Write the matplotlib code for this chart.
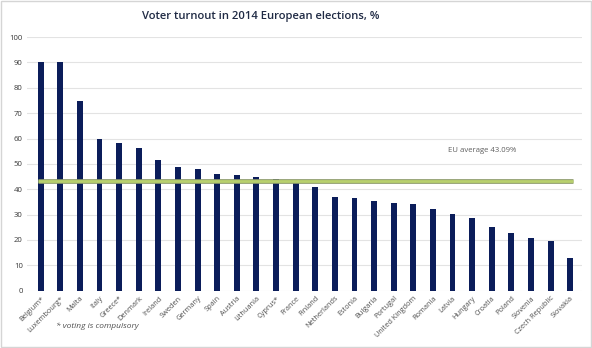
import matplotlib
matplotlib.use("Agg")
import matplotlib.pyplot as plt
import numpy as np

countries = ["Belgium*", "Luxembourg*", "Malta", "Italy", "Greece*", "Denmark",
             "Ireland", "Sweden", "Germany", "Spain", "Austria", "Lithuania",
             "Cyprus*", "France", "Finland", "Netherlands", "Estonia", "Bulgaria",
             "Portugal", "United Kingdom", "Romania", "Latvia", "Hungary",
             "Croatia", "Poland", "Slovenia", "Czech Republic", "Slovakia"]
turnout = [90.0, 90.0, 74.8, 60.0, 58.1, 56.4, 51.6, 48.8, 48.0, 45.9, 45.6,
           44.8, 44.1, 42.9, 41.0, 37.1, 36.4, 35.4, 34.6, 34.2, 32.2, 30.2,
           28.8, 25.1, 22.9, 20.9, 19.6, 13.0]
eu_avg = 43.09
yticks = list(range(0, 101, 10))

plt.rcParams['font.family'] = ['Open Sans', 'DejaVu Sans']

fig = plt.figure(figsize=(5.92, 3.48), dpi=100)
ax = fig.add_axes([0.0456, 0.1646, 0.9374, 0.7288])

x = np.arange(len(countries))
ax.bar(x, turnout, width=0.3, color='#0b1d5a', zorder=2)

# EU average line across the bars
w = 0.15
ax.plot([x[0] - w, x[-1] + w], [eu_avg, eu_avg], color='#8c9a6a', lw=3.4,
        solid_capstyle='butt', zorder=3)
ax.plot([x[0] - w, x[-1] + w], [eu_avg, eu_avg], color='#b8d06e', lw=2.0,
        solid_capstyle='butt', zorder=4)
ax.text(22.5, 55.3, "EU average %.2f%%" % eu_avg, fontsize=5.6, color='#606060',
        ha='center', va='center')

ax.set_xlim(-0.7, 27.6)
ax.set_ylim(0, 100)
ax.set_yticks(yticks)
ax.set_yticklabels([str(v) for v in yticks], fontsize=5.6, color='#3a3a3a')
ax.yaxis.grid(True, color='#e3e3e3', lw=0.8, zorder=0)
ax.set_axisbelow(True)
ax.set_xticks(x)
ax.set_xticklabels(countries, rotation=45, ha='right', rotation_mode='anchor',
                   fontsize=5.3, color='#505050')
ax.tick_params(axis='both', length=0, pad=3)
for s in ax.spines.values():
    s.set_visible(False)

fig.text(261 / 592, 1 - 17 / 348, "Voter turnout in 2014 European elections, %",
         ha='center', va='center', fontsize=8.1, color='#1f2a44', weight='semibold')
fig.text(56 / 592, 1 - 326 / 348, "* voting is compulsory", ha='left', va='center',
         fontsize=6, style='italic', color='#505050')

# light frame around the picture
fig.patches.append(plt.Rectangle((0.002, 0.003), 0.996, 0.994, transform=fig.transFigure,
                                 fill=False, edgecolor='#d5d5d5', lw=1))

fig.savefig("out.png", dpi=100)
